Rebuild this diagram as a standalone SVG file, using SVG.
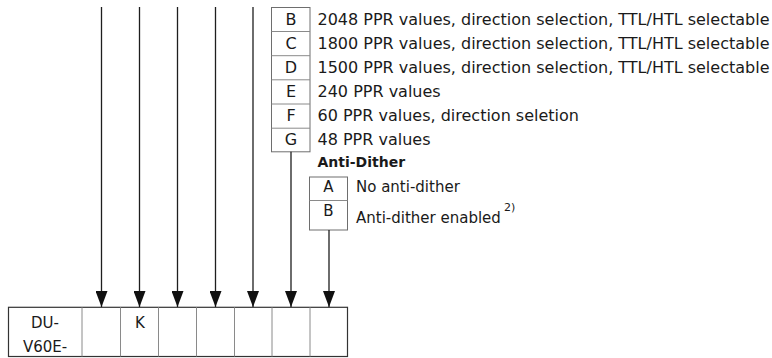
<svg xmlns="http://www.w3.org/2000/svg" width="772" height="358" viewBox="0 0 772 358">
<style>
.t{font-family:"DejaVu Sans",Verdana,sans-serif;font-size:16px;fill:#1a1a1a}
.s{font-size:15px}
.b{font-family:"DejaVu Sans",Verdana,sans-serif;font-size:14px;font-weight:bold;fill:#1a1a1a}
.c{text-anchor:middle}
.box{fill:#fff;stroke:#6e6e6e;stroke-width:1}
.div{stroke:#8a8a8a;stroke-width:1;fill:none}
.con{stroke:#1e1e1e;stroke-width:1.3;fill:none;marker-end:url(#ah)}
.plain{stroke:#1e1e1e;stroke-width:1.3;fill:none}
</style>
<defs>
<marker id="ah" viewBox="0 0 16 12" refX="16" refY="6" markerWidth="16" markerHeight="12" markerUnits="userSpaceOnUse" orient="auto">
<path d="M0,0 L16,6 L0,12 z" fill="#111"/>
</marker>
</defs>

<g id="options-ppr">
<rect class="box" x="271.5" y="7.5" width="38.5" height="144.3"/>
<path class="div" d="M271.5,31.5H310M271.5,55.7H310M271.5,79.8H310M271.5,104H310M271.5,128.2H310"/>
<text class="t c" x="291" y="24.5">B</text>
<text class="t c" x="291" y="48.7">C</text>
<text class="t c" x="291" y="72.9">D</text>
<text class="t c" x="291" y="97">E</text>
<text class="t c" x="291" y="121.2">F</text>
<text class="t c" x="291" y="145.4">G</text>
<text class="t" x="317.5" y="24.5">2048 PPR values, direction selection, TTL/HTL selectable</text>
<text class="t" x="317.5" y="48.7">1800 PPR values, direction selection, TTL/HTL selectable</text>
<text class="t" x="317.5" y="72.9">1500 PPR values, direction selection, TTL/HTL selectable</text>
<text class="t" x="317.5" y="97">240 PPR values</text>
<text class="t" x="317.5" y="121.2">60 PPR values, direction seletion</text>
<text class="t" x="317.5" y="145.4">48 PPR values</text>
</g>

<g id="options-antidither">
<text class="b" x="317.5" y="167">Anti-Dither</text>
<rect class="box" x="309.5" y="177" width="38" height="53"/>
<path class="div" d="M309.5,200.5H347.5"/>
<text class="t s c" x="328.5" y="191.5">A</text>
<text class="t s c" x="328.5" y="216">B</text>
<text class="t s" x="356" y="191.5">No anti-dither</text>
<text class="t s" x="356" y="223">Anti-dither enabled</text>
<text class="t" x="504" y="211" style="font-size:11px">2)</text>
</g>

<g id="type-code">
<rect x="8.5" y="307.3" width="339" height="49.2" fill="#fff" stroke="#333" stroke-width="1.2"/>
<path class="div" d="M82,307.3V356.5M120.5,307.3V356.5M158.5,307.3V356.5M196.5,307.3V356.5M234.5,307.3V356.5M272,307.3V356.5M310,307.3V356.5" stroke="#9a9a9a"/>
<text class="t s c" x="45" y="328">DU-</text>
<text class="t s c" x="45" y="352">V60E-</text>
<text class="t s c" x="140" y="328">K</text>
</g>

<g id="connectors">
<line class="con" x1="101.5" y1="7" x2="101.5" y2="307"/>
<line class="con" x1="139.5" y1="7" x2="139.5" y2="307"/>
<line class="con" x1="177.5" y1="7" x2="177.5" y2="307"/>
<line class="con" x1="215.5" y1="7" x2="215.5" y2="307"/>
<line class="con" x1="253" y1="7" x2="253" y2="307"/>
<line class="con" x1="291" y1="151.8" x2="291" y2="307"/>
<line class="con" x1="329" y1="230" x2="329" y2="307"/>
</g>
</svg>
